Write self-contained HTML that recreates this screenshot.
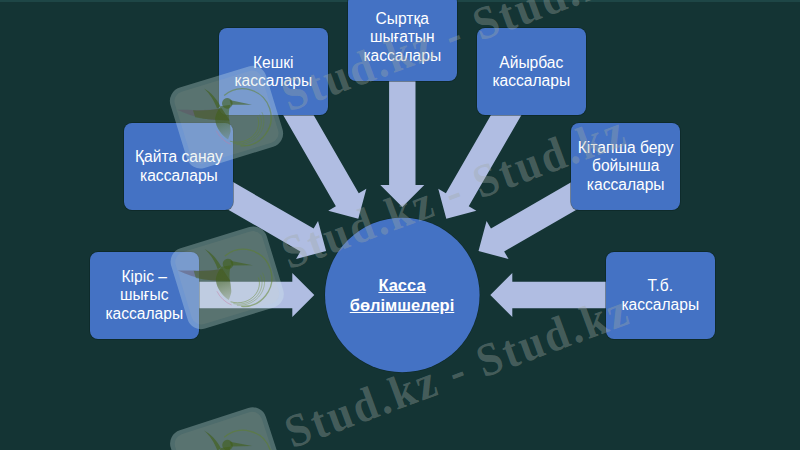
<!DOCTYPE html>
<html><head><meta charset="utf-8">
<style>
html,body{margin:0;padding:0;}
body{width:800px;height:450px;overflow:hidden;background:#143434;position:relative;font-family:"Liberation Sans",sans-serif;}
#top{position:absolute;left:0;top:0;width:800px;height:2px;background:#1e4646;}
svg{position:absolute;left:0;top:0;}
.b{position:absolute;width:109px;height:87px;box-shadow:0 0 0 0.7px rgba(8,30,30,0.55);background:#4472c4;border-radius:8px;color:#fff;font-size:15.6px;line-height:18.7px;display:flex;align-items:center;justify-content:center;text-align:center;box-sizing:border-box;padding-top:1.6px;}
#ct{position:absolute;left:302px;top:274.5px;width:200px;text-align:center;color:#fff;font-weight:bold;font-size:16.5px;line-height:20px;text-decoration:underline;}
</style></head><body>
<div id="top"></div>
<svg width="800" height="450" viewBox="0 0 800 450">
<g fill="#b0bde2" transform="translate(402.3 295)">
<polygon points="88,0 110,-22 110,-13.2 260,-13.2 260,13.2 110,13.2 110,22" transform="rotate(180)"/>
<polygon points="88,0 110,-22 110,-13.2 260,-13.2 260,13.2 110,13.2 110,22" transform="rotate(210)"/>
<polygon points="88,0 110,-22 110,-13.2 260,-13.2 260,13.2 110,13.2 110,22" transform="rotate(240)"/>
<polygon points="88,0 110,-22 110,-13.2 260,-13.2 260,13.2 110,13.2 110,22" transform="rotate(270)"/>
<polygon points="88,0 110,-22 110,-13.2 260,-13.2 260,13.2 110,13.2 110,22" transform="rotate(300)"/>
<polygon points="88,0 110,-22 110,-13.2 260,-13.2 260,13.2 110,13.2 110,22" transform="rotate(330)"/>
<polygon points="88,0 110,-22 110,-13.2 260,-13.2 260,13.2 110,13.2 110,22" transform="rotate(0)"/>
</g>
<circle cx="402.3" cy="295" r="77.8" fill="rgba(8,30,30,0.55)"/><circle cx="402.3" cy="295" r="77.3" fill="#4472c4"/>
</svg>
<div class="b" style="left:89.8px;top:251.5px">Кіріс –<br>шығыс<br>кассалары</div>
<div class="b" style="left:124.4px;top:122.5px">Қайта санау<br>кассалары</div>
<div class="b" style="left:218.8px;top:28.1px">Кешкі<br>кассалары</div>
<div class="b" style="left:347.8px;top:-6.5px">Сыртқа<br>шығатын<br>кассалары</div>
<div class="b" style="left:476.8px;top:28.1px">Айырбас<br>кассалары</div>
<div class="b" style="left:571.2px;top:122.5px">Кітапша беру<br>бойынша<br>кассалары</div>
<div class="b" style="left:605.8px;top:251.5px">Т.б.<br>кассалары</div>
<div id="ct">Касса<br>бөлімшелері</div>
<svg width="800" height="450" viewBox="0 0 800 450" style="position:absolute;left:0;top:0">
<defs><linearGradient id="bg1" gradientUnits="userSpaceOnUse" x1="0" y1="-12" x2="0" y2="22"><stop offset="0" stop-color="rgb(65,95,25)" stop-opacity="0.6"/><stop offset="0.45" stop-color="rgb(65,95,25)" stop-opacity="0.55"/><stop offset="1" stop-color="rgb(95,120,40)" stop-opacity="0.25"/></linearGradient></defs>

<g transform="translate(226.5 117.2) rotate(-17)">
<rect x="-50" y="-42" width="100" height="84" rx="14" fill="rgba(215,240,240,0.30)"/>
<rect x="-45.5" y="-37.5" width="91" height="75" rx="10" fill="rgba(230,205,160,0.08)"/>
<path d="M-45,-21.5 C-33,-18 -18,-12 -2,-10 L2,4 C-12,0 -28,-6 -45,-21.5 Z" fill="rgba(95,80,100,0.45)"/>
<path d="M-30,-16.5 C-22,-13.5 -12,-11 -2,-10 L2,4 C-10,0 -20,-3.5 -30,-9 Z" fill="rgba(65,95,25,0.5)"/>
<path d="M-13,-34.1 C-8,-29 -4,-21 -2.5,-12 L-6.5,-11 C-7,-20 -9,-27 -13,-34.1 Z" fill="rgba(65,95,25,0.62)"/>
<circle cx="4.8" cy="-13" r="5.3" fill="rgba(65,95,25,0.6)"/>
<path d="M8,-15.5 L28,-4.5 L8,-10.5 Z" fill="rgba(65,95,25,0.6)"/>
<path d="M-2.4,-12.3 C-8,-8 -11.7,-3 -11.7,0.1 C-13,6.7 -10,16 -5,21.7 C-2,18 0,15 0.15,13.5 C1,9 1.7,6 1.7,4.2 C2.5,-2 5,-8 7.6,-10.8 Z" fill="url(#bg1)"/>
<path d="M4.14,-21.48 A28.55,28.55 0 1 1 5.07,31.45" fill="none" stroke="rgba(95,130,35,0.5)" stroke-width="1.3"/>
<polyline points="29.79,8.68 29.85,10.83 29.59,13.05 28.99,15.30 28.03,17.53 26.71,19.68 25.05,21.69 23.05,23.51 20.74,25.08 18.14,26.36 15.30,27.30 12.27,27.85 9.09,27.98 5.83,27.67 2.55,26.88 -0.68,25.63 -3.79,23.89" fill="none" stroke="rgba(100,135,35,0.45)" stroke-width="0.9"/>
<polyline points="32.63,7.24 32.77,9.64 32.56,12.13 31.99,14.63 31.06,17.11 29.76,19.51 28.09,21.77 26.07,23.84 23.73,25.66 21.09,27.19 18.19,28.37 15.09,29.17 11.82,29.56 8.45,29.49 5.04,28.96 1.66,27.96 -1.63,26.47" fill="none" stroke="rgba(100,135,35,0.4)" stroke-width="0.8"/>
<polyline points="35.29,5.50 35.53,8.14 35.41,10.85 34.92,13.59 34.06,16.29 32.82,18.92 31.20,21.41 29.24,23.72 26.94,25.79 24.33,27.58 21.45,29.03 18.35,30.12 15.07,30.80 11.67,31.05 8.20,30.85 4.72,30.18 1.30,29.05" fill="none" stroke="rgba(100,135,35,0.38)" stroke-width="0.8"/>
<path d="M-3.66,27.40 A29.5,29.5 0 0 1 -13.75,9.92" fill="none" stroke="rgba(200,120,160,0.45)" stroke-width="0.9"/>
</g>
<g transform="translate(227.2 277.8) rotate(-17)">
<rect x="-50" y="-42" width="100" height="84" rx="14" fill="rgba(215,240,240,0.30)"/>
<rect x="-45.5" y="-37.5" width="91" height="75" rx="10" fill="rgba(230,205,160,0.08)"/>
<path d="M-45,-21.5 C-33,-18 -18,-12 -2,-10 L2,4 C-12,0 -28,-6 -45,-21.5 Z" fill="rgba(95,80,100,0.45)"/>
<path d="M-30,-16.5 C-22,-13.5 -12,-11 -2,-10 L2,4 C-10,0 -20,-3.5 -30,-9 Z" fill="rgba(65,95,25,0.5)"/>
<path d="M-13,-34.1 C-8,-29 -4,-21 -2.5,-12 L-6.5,-11 C-7,-20 -9,-27 -13,-34.1 Z" fill="rgba(65,95,25,0.62)"/>
<circle cx="4.8" cy="-13" r="5.3" fill="rgba(65,95,25,0.6)"/>
<path d="M8,-15.5 L28,-4.5 L8,-10.5 Z" fill="rgba(65,95,25,0.6)"/>
<path d="M-2.4,-12.3 C-8,-8 -11.7,-3 -11.7,0.1 C-13,6.7 -10,16 -5,21.7 C-2,18 0,15 0.15,13.5 C1,9 1.7,6 1.7,4.2 C2.5,-2 5,-8 7.6,-10.8 Z" fill="url(#bg1)"/>
<path d="M4.14,-21.48 A28.55,28.55 0 1 1 5.07,31.45" fill="none" stroke="rgba(95,130,35,0.5)" stroke-width="1.3"/>
<polyline points="29.79,8.68 29.85,10.83 29.59,13.05 28.99,15.30 28.03,17.53 26.71,19.68 25.05,21.69 23.05,23.51 20.74,25.08 18.14,26.36 15.30,27.30 12.27,27.85 9.09,27.98 5.83,27.67 2.55,26.88 -0.68,25.63 -3.79,23.89" fill="none" stroke="rgba(100,135,35,0.45)" stroke-width="0.9"/>
<polyline points="32.63,7.24 32.77,9.64 32.56,12.13 31.99,14.63 31.06,17.11 29.76,19.51 28.09,21.77 26.07,23.84 23.73,25.66 21.09,27.19 18.19,28.37 15.09,29.17 11.82,29.56 8.45,29.49 5.04,28.96 1.66,27.96 -1.63,26.47" fill="none" stroke="rgba(100,135,35,0.4)" stroke-width="0.8"/>
<polyline points="35.29,5.50 35.53,8.14 35.41,10.85 34.92,13.59 34.06,16.29 32.82,18.92 31.20,21.41 29.24,23.72 26.94,25.79 24.33,27.58 21.45,29.03 18.35,30.12 15.07,30.80 11.67,31.05 8.20,30.85 4.72,30.18 1.30,29.05" fill="none" stroke="rgba(100,135,35,0.38)" stroke-width="0.8"/>
<path d="M-3.66,27.40 A29.5,29.5 0 0 1 -13.75,9.92" fill="none" stroke="rgba(200,120,160,0.45)" stroke-width="0.9"/>
</g>
<g transform="translate(227 459) rotate(-18)">
<rect x="-50" y="-42" width="100" height="84" rx="14" fill="rgba(215,240,240,0.30)"/>
<rect x="-45.5" y="-37.5" width="91" height="75" rx="10" fill="rgba(230,205,160,0.08)"/>
<path d="M-45,-21.5 C-33,-18 -18,-12 -2,-10 L2,4 C-12,0 -28,-6 -45,-21.5 Z" fill="rgba(95,80,100,0.45)"/>
<path d="M-30,-16.5 C-22,-13.5 -12,-11 -2,-10 L2,4 C-10,0 -20,-3.5 -30,-9 Z" fill="rgba(65,95,25,0.5)"/>
<path d="M-13,-34.1 C-8,-29 -4,-21 -2.5,-12 L-6.5,-11 C-7,-20 -9,-27 -13,-34.1 Z" fill="rgba(65,95,25,0.62)"/>
<circle cx="4.8" cy="-13" r="5.3" fill="rgba(65,95,25,0.6)"/>
<path d="M8,-15.5 L28,-4.5 L8,-10.5 Z" fill="rgba(65,95,25,0.6)"/>
<path d="M-2.4,-12.3 C-8,-8 -11.7,-3 -11.7,0.1 C-13,6.7 -10,16 -5,21.7 C-2,18 0,15 0.15,13.5 C1,9 1.7,6 1.7,4.2 C2.5,-2 5,-8 7.6,-10.8 Z" fill="url(#bg1)"/>
<path d="M4.14,-21.48 A28.55,28.55 0 1 1 5.07,31.45" fill="none" stroke="rgba(95,130,35,0.5)" stroke-width="1.3"/>
<polyline points="29.79,8.68 29.85,10.83 29.59,13.05 28.99,15.30 28.03,17.53 26.71,19.68 25.05,21.69 23.05,23.51 20.74,25.08 18.14,26.36 15.30,27.30 12.27,27.85 9.09,27.98 5.83,27.67 2.55,26.88 -0.68,25.63 -3.79,23.89" fill="none" stroke="rgba(100,135,35,0.45)" stroke-width="0.9"/>
<polyline points="32.63,7.24 32.77,9.64 32.56,12.13 31.99,14.63 31.06,17.11 29.76,19.51 28.09,21.77 26.07,23.84 23.73,25.66 21.09,27.19 18.19,28.37 15.09,29.17 11.82,29.56 8.45,29.49 5.04,28.96 1.66,27.96 -1.63,26.47" fill="none" stroke="rgba(100,135,35,0.4)" stroke-width="0.8"/>
<polyline points="35.29,5.50 35.53,8.14 35.41,10.85 34.92,13.59 34.06,16.29 32.82,18.92 31.20,21.41 29.24,23.72 26.94,25.79 24.33,27.58 21.45,29.03 18.35,30.12 15.07,30.80 11.67,31.05 8.20,30.85 4.72,30.18 1.30,29.05" fill="none" stroke="rgba(100,135,35,0.38)" stroke-width="0.8"/>
<path d="M-3.66,27.40 A29.5,29.5 0 0 1 -13.75,9.92" fill="none" stroke="rgba(200,120,160,0.45)" stroke-width="0.9"/>
</g>
<g font-family="Liberation Serif" font-weight="bold" font-size="47" fill="rgba(160,170,165,0.37)" letter-spacing="3">
<text transform="translate(288.9 111.8) rotate(-20.3) scale(0.92 1)" xml:space="preserve">Stud.kz - Stud.kz</text>
<text transform="translate(288.9 269.5) rotate(-20.3) scale(0.92 1)" xml:space="preserve">Stud.kz - Stud.kz</text>
<text transform="translate(292.3 448.5) rotate(-20.3) scale(0.92 1)" xml:space="preserve">Stud.kz - Stud.kz</text>
</g>
</svg>
</body></html>
